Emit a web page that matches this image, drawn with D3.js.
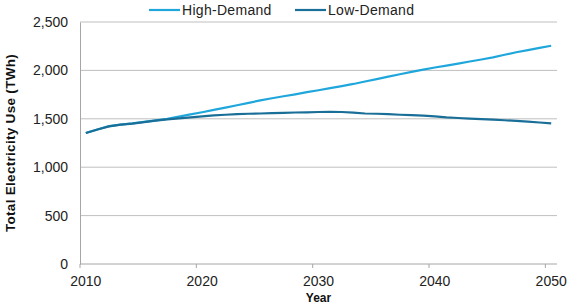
<!DOCTYPE html>
<html lang="en">
<head>
  <meta charset="UTF-8">
  <title>Total Electricity Use</title>
  <script src="https://d3js.org/d3.v7.min.js"></script>
  <style>
    body {
      margin: 0;
      background-color: #fff;
      font-family: "Liberation Sans", Arial, sans-serif;
    }
    .grid line {
      stroke: #bfbfbf;
      stroke-width: 1;
    }
    .tick text {
      font-size: 14px;
      fill: #222;
      font-family: "Liberation Sans", Arial, sans-serif;
    }
  </style>
</head>
<body>
<div id="chart"></div>

<script>
  // Years (category axis) and the two demand scenarios, TWh
  const years = d3.range(2010, 2051);
  const tickYears = [2010, 2020, 2030, 2040, 2050];
  const yTicks = [0, 500, 1000, 1500, 2000, 2500];

  const highDemand = [
    1353, 1390, 1425, 1440, 1452, 1468, 1484, 1500, 1522, 1545,
    1568, 1592, 1615, 1640, 1665, 1690, 1712, 1733, 1753, 1775,
    1795, 1817, 1838, 1860, 1885, 1910, 1935, 1960, 1985, 2008,
    2030, 2050, 2070, 2092, 2113, 2135, 2162, 2187, 2210, 2233,
    2255
  ];
  const lowDemand = [
    1353, 1390, 1422, 1440, 1450, 1465, 1482, 1495, 1505, 1515,
    1525, 1535, 1542, 1548, 1552, 1555, 1558, 1562, 1565, 1567,
    1570, 1572, 1570, 1563, 1555, 1552, 1548, 1542, 1538, 1532,
    1525, 1515, 1508, 1502, 1497, 1492, 1485, 1478, 1470, 1462,
    1453
  ];

  const series = [
    { name: "High-Demand", values: highDemand, color: "#1fa7dc" },
    { name: "Low-Demand", values: lowDemand, color: "#1a6f98" }
  ];

  const width = 571;
  const height = 305;
  const margin = { top: 22, right: 14, bottom: 41, left: 80 };

  const svg = d3.select("#chart")
    .append("svg")
    .attr("width", width)
    .attr("height", height);

  const x = d3.scaleBand()
    .domain(years)
    .range([margin.left, width - margin.right]);

  const y = d3.scaleLinear()
    .domain([0, 2500])
    .range([height - margin.bottom, margin.top]);

  // horizontal gridlines
  svg.append("g")
    .attr("class", "grid")
    .selectAll("line")
    .data(yTicks.slice(1))
    .enter().append("line")
    .attr("x1", margin.left)
    .attr("x2", width - margin.right)
    .attr("y1", d => y(d))
    .attr("y2", d => y(d));

  // y axis
  const yAxis = svg.append("g")
    .attr("transform", `translate(${margin.left},0)`)
    .call(d3.axisLeft(y).tickValues(yTicks).tickSize(0).tickPadding(12)
      .tickFormat(d3.format(",")));
  yAxis.select(".domain").attr("stroke", "#a6a6a6");

  // x axis: ticks on category boundaries, labels centered on categories
  const xAxis = svg.append("g")
    .attr("transform", `translate(0,${height - margin.bottom})`);
  xAxis.append("line")
    .attr("x1", margin.left)
    .attr("x2", width - margin.right)
    .attr("stroke", "#a6a6a6");
  const xt = xAxis.selectAll(".tick")
    .data(tickYears)
    .enter().append("g")
    .attr("class", "tick");
  xt.append("line")
    .attr("x1", d => x(d))
    .attr("x2", d => x(d))
    .attr("y1", 0)
    .attr("y2", 4)
    .attr("stroke", "#a6a6a6");
  xt.append("text")
    .attr("x", d => x(d) + x.bandwidth() / 2)
    .attr("y", 22)
    .attr("text-anchor", "middle")
    .text(d => d);

  // lines
  const line = d3.line()
    .x((d, i) => x(years[i]) + x.bandwidth() / 2)
    .y(d => y(d));

  svg.selectAll(".series")
    .data(series)
    .enter().append("path")
    .attr("class", "series")
    .attr("fill", "none")
    .attr("stroke", d => d.color)
    .attr("stroke-width", 2.2)
    .attr("stroke-linejoin", "round")
    .attr("d", d => line(d.values));

  // legend
  const legendX = [149, 295];
  const legend = svg.selectAll(".legend")
    .data(series)
    .enter().append("g")
    .attr("class", "legend")
    .attr("transform", (d, i) => `translate(${legendX[i]},10)`);
  legend.append("line")
    .attr("x1", 0)
    .attr("x2", 31)
    .attr("stroke", d => d.color)
    .attr("stroke-width", 2.2);
  legend.append("text")
    .attr("x", 33)
    .attr("y", 5)
    .style("font-size", "14px")
    .style("letter-spacing", "0.3px")
    .style("fill", "#222")
    .text(d => d.name);

  // axis titles
  svg.append("text")
    .attr("transform", `translate(15,${(margin.top + height - margin.bottom) / 2}) rotate(-90)`)
    .attr("text-anchor", "middle")
    .style("font-size", "13.5px")
    .style("letter-spacing", "0.3px")
    .style("font-weight", "bold")
    .style("fill", "#111")
    .text("Total Electricity Use (TWh)");

  svg.append("text")
    .attr("x", x(2030) + x.bandwidth() / 2)
    .attr("y", 302)
    .attr("text-anchor", "middle")
    .style("font-size", "12px")
    .style("font-weight", "bold")
    .style("fill", "#111")
    .text("Year");
</script>
</body>
</html>
